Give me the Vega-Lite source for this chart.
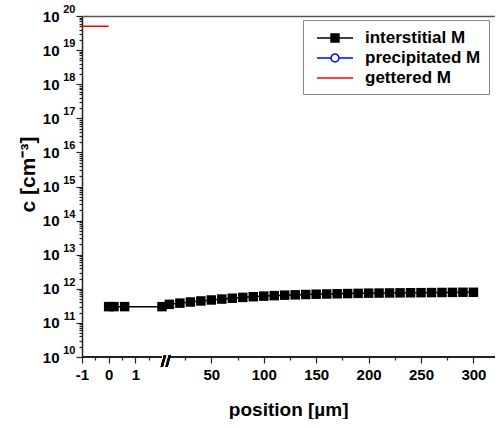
{
  "$schema": "https://vega.github.io/schema/vega-lite/v6.json",
  "width": 413,
  "height": 341,
  "padding": {"left": 17, "top": 3, "right": 0, "bottom": 0},
  "config": {
    "view": {"stroke": null},
    "font": "Liberation Sans",
    "axis": {"labelFont": "Liberation Sans", "labelFontWeight": "bold", "labelColor": "#000", "titleFont": "Liberation Sans", "titleFontWeight": "bold", "titleColor": "#000", "grid": false, "labelOverlap": false, "labelFlush": false, "tickColor": "#222", "tickWidth": 1.2}
  },
  "data": {
    "values": [
      {"series": "interstitial M", "segment": "surface", "position": 0, "c": 3.0e11},
      {"series": "interstitial M", "segment": "surface", "position": 0.2, "c": 3.0e11},
      {"series": "interstitial M", "segment": "surface", "position": 0.6, "c": 3.0e11},
      {"series": "interstitial M", "segment": "surface", "position": 2, "c": 3.0e11},
      {"series": "interstitial M", "segment": "bulk", "position": 10, "c": 3.5e11},
      {"series": "interstitial M", "segment": "bulk", "position": 20, "c": 3.8e11},
      {"series": "interstitial M", "segment": "bulk", "position": 30, "c": 4.1e11},
      {"series": "interstitial M", "segment": "bulk", "position": 40, "c": 4.4e11},
      {"series": "interstitial M", "segment": "bulk", "position": 50, "c": 4.7e11},
      {"series": "interstitial M", "segment": "bulk", "position": 60, "c": 5.0e11},
      {"series": "interstitial M", "segment": "bulk", "position": 70, "c": 5.3e11},
      {"series": "interstitial M", "segment": "bulk", "position": 80, "c": 5.6e11},
      {"series": "interstitial M", "segment": "bulk", "position": 90, "c": 5.85e11},
      {"series": "interstitial M", "segment": "bulk", "position": 100, "c": 6.1e11},
      {"series": "interstitial M", "segment": "bulk", "position": 110, "c": 6.3e11},
      {"series": "interstitial M", "segment": "bulk", "position": 120, "c": 6.5e11},
      {"series": "interstitial M", "segment": "bulk", "position": 130, "c": 6.65e11},
      {"series": "interstitial M", "segment": "bulk", "position": 140, "c": 6.8e11},
      {"series": "interstitial M", "segment": "bulk", "position": 150, "c": 6.95e11},
      {"series": "interstitial M", "segment": "bulk", "position": 160, "c": 7.05e11},
      {"series": "interstitial M", "segment": "bulk", "position": 170, "c": 7.15e11},
      {"series": "interstitial M", "segment": "bulk", "position": 180, "c": 7.25e11},
      {"series": "interstitial M", "segment": "bulk", "position": 190, "c": 7.35e11},
      {"series": "interstitial M", "segment": "bulk", "position": 200, "c": 7.45e11},
      {"series": "interstitial M", "segment": "bulk", "position": 210, "c": 7.5e11},
      {"series": "interstitial M", "segment": "bulk", "position": 220, "c": 7.55e11},
      {"series": "interstitial M", "segment": "bulk", "position": 230, "c": 7.6e11},
      {"series": "interstitial M", "segment": "bulk", "position": 240, "c": 7.65e11},
      {"series": "interstitial M", "segment": "bulk", "position": 250, "c": 7.7e11},
      {"series": "interstitial M", "segment": "bulk", "position": 260, "c": 7.75e11},
      {"series": "interstitial M", "segment": "bulk", "position": 270, "c": 7.8e11},
      {"series": "interstitial M", "segment": "bulk", "position": 280, "c": 7.85e11},
      {"series": "interstitial M", "segment": "bulk", "position": 290, "c": 7.9e11},
      {"series": "interstitial M", "segment": "bulk", "position": 300, "c": 7.9e11},
      {"series": "gettered M", "segment": "gettered", "position": -1, "c": 5e19},
      {"series": "gettered M", "segment": "gettered", "position": 0, "c": 5e19}
    ]
  },
  "resolve": {"axis": {"x": "independent", "y": "independent"}},
  "layer": [
    {
      "transform": [{"filter": "datum.series == 'interstitial M'"}],
      "mark": {"type": "line", "color": "#000", "strokeWidth": 1.5},
      "encoding": {
        "x": {"field": "position", "type": "quantitative",
          "scale": {"domain": [-1, 2, 10, 320], "range": [0, 80, 87.4, 412.4], "nice": false, "zero": false},
          "axis": {"orient": "bottom", "values": [-1, 0, 1, 50, 100, 150, 200, 250, 300], "labelExpr": "datum.value < 0 ? '-' + (-datum.value) : '' + datum.value", "tickSize": 6, "domain": false, "labelPadding": 4, "labelFontSize": 15, "title": "position [µm]", "titleFontSize": 19, "titlePadding": 18}},
        "y": {"field": "c", "type": "quantitative",
          "scale": {"type": "log", "domain": [1e10, 1e20], "nice": false},
          "axis": {"orient": "left", "values": [1e10, 1e11, 1e12, 1e13, 1e14, 1e15, 1e16, 1e17, 1e18, 1e19, 1e20], "labelExpr": "'10'", "tickSize": 6, "domain": true, "domainColor": "#222", "domainWidth": 1.5, "labelPadding": 17, "labelFontSize": 15, "title": "c [cm⁻³]", "titleFontSize": 21, "titlePadding": 4, "titleY": 158}},
        "detail": {"field": "segment"}
      }
    },
    {
      "transform": [{"filter": "datum.series == 'interstitial M'"}],
      "mark": {"type": "point", "shape": "square", "filled": true, "color": "#000", "size": 90, "opacity": 1},
      "encoding": {
        "x": {"field": "position", "type": "quantitative",
          "scale": {"domain": [-1, 2, 10, 320], "range": [0, 80, 87.4, 412.4], "nice": false, "zero": false},
          "axis": {"orient": "bottom", "values": [-0.5, 0.5, 1.5, 25, 75, 125, 175, 225, 275], "tickSize": 3, "labels": false, "domain": false, "title": null}},
        "y": {"field": "c", "type": "quantitative",
          "scale": {"type": "log", "domain": [1e10, 1e20], "nice": false},
          "axis": {"orient": "left", "values": [1e10, 1e11, 1e12, 1e13, 1e14, 1e15, 1e16, 1e17, 1e18, 1e19, 1e20], "labelExpr": "'' + round(log(datum.value) / LN10)", "ticks": false, "tickSize": 0, "domain": false, "labelPadding": 7, "labelFontSize": 11, "labelOffset": -6.5, "title": null}}
      }
    },
    {
      "transform": [{"filter": "datum.series == 'gettered M'"}],
      "mark": {"type": "line", "color": "#ff0000", "strokeWidth": 1.5},
      "encoding": {
        "x": {"field": "position", "type": "quantitative",
          "scale": {"domain": [-1, 2, 10, 320], "range": [0, 80, 87.4, 412.4], "nice": false, "zero": false},
          "axis": {"orient": "top", "domain": true, "domainColor": "#555", "domainWidth": 1.5, "ticks": false, "labels": false, "title": null}},
        "y": {"field": "c", "type": "quantitative",
          "scale": {"type": "log", "domain": [1e10, 1e20], "nice": false},
          "axis": {"orient": "left", "values": [2e10,3e10,4e10,5e10,6e10,7e10,8e10,9e10,2e11,3e11,4e11,5e11,6e11,7e11,8e11,9e11,2e12,3e12,4e12,5e12,6e12,7e12,8e12,9e12,2e13,3e13,4e13,5e13,6e13,7e13,8e13,9e13,2e14,3e14,4e14,5e14,6e14,7e14,8e14,9e14,2e15,3e15,4e15,5e15,6e15,7e15,8e15,9e15,2e16,3e16,4e16,5e16,6e16,7e16,8e16,9e16,2e17,3e17,4e17,5e17,6e17,7e17,8e17,9e17,2e18,3e18,4e18,5e18,6e18,7e18,8e18,9e18,2e19,3e19,4e19,5e19,6e19,7e19,8e19,9e19], "tickSize": 3, "labels": false, "domain": false, "title": null}}
      }
    },
    {
      "mark": {"type": "point", "opacity": 0},
      "encoding": {
        "x": {"field": "position", "type": "quantitative", "scale": {"domain": [-1, 2, 10, 320], "range": [0, 80, 87.4, 412.4], "nice": false, "zero": false}, "axis": null},
        "y": {"field": "c", "type": "quantitative", "scale": {"type": "log", "domain": [1e10, 1e20], "nice": false}, "axis": null},
        "shape": {"field": "series", "type": "nominal",
          "scale": {"domain": ["interstitial M", "precipitated M", "gettered M"], "range": ["M-2,0H2M-0.44,-0.44H0.44V0.44H-0.44Z", "M-2,0H-0.44M0.44,0H2M-0.44,0A0.44,0.44,0,1,0,0.44,0A0.44,0.44,0,1,0,-0.44,0Z", "M-2,0H2"]},
          "legend": {"title": null, "orient": "none", "legendX": 221, "legendY": 4, "symbolSize": 324, "symbolStrokeWidth": 1.5, "symbolOpacity": 1, "labelFontSize": 17, "labelFont": "Liberation Sans", "labelFontWeight": "bold", "labelColor": "#000", "padding": 8, "strokeColor": "#888", "fillColor": "#fff", "symbolOffset": 14, "labelOffset": 20, "rowPadding": 2}},
        "stroke": {"field": "series", "type": "nominal",
          "scale": {"domain": ["interstitial M", "precipitated M", "gettered M"], "range": ["#000000", "#0000ff", "#ff0000"]},
          "legend": {"title": null, "orient": "none", "legendX": 221, "legendY": 4, "symbolSize": 324, "symbolStrokeWidth": 1.5, "symbolOpacity": 1, "labelFontSize": 17, "labelFont": "Liberation Sans", "labelFontWeight": "bold", "labelColor": "#000", "padding": 8, "strokeColor": "#888", "fillColor": "#fff", "symbolOffset": 14, "labelOffset": 20, "rowPadding": 2}},
        "fill": {"field": "series", "type": "nominal",
          "scale": {"domain": ["interstitial M", "precipitated M", "gettered M"], "range": ["#000000", "#ffffff", "transparent"]},
          "legend": {"title": null, "orient": "none", "legendX": 221, "legendY": 4, "symbolSize": 324, "symbolStrokeWidth": 1.5, "symbolOpacity": 1, "labelFontSize": 17, "labelFont": "Liberation Sans", "labelFontWeight": "bold", "labelColor": "#000", "padding": 8, "strokeColor": "#888", "fillColor": "#fff", "symbolOffset": 14, "labelOffset": 20, "rowPadding": 2}}
      }
    },
    {
      "mark": {"type": "rule", "color": "#222", "strokeWidth": 1.5},
      "encoding": {
        "x": {"datum": -1, "type": "quantitative", "scale": {"domain": [-1, 2, 10, 320], "range": [0, 80, 87.4, 412.4], "nice": false, "zero": false}, "axis": null},
        "x2": {"datum": 2},
        "y": {"datum": 1e10, "type": "quantitative", "scale": {"type": "log", "domain": [1e10, 1e20], "nice": false}, "axis": null}
      }
    },
    {
      "mark": {"type": "rule", "color": "#222", "strokeWidth": 1.5},
      "encoding": {
        "x": {"datum": 10, "type": "quantitative", "scale": {"domain": [-1, 2, 10, 320], "range": [0, 80, 87.4, 412.4], "nice": false, "zero": false}, "axis": null},
        "x2": {"datum": 320},
        "y": {"datum": 1e10, "type": "quantitative", "scale": {"type": "log", "domain": [1e10, 1e20], "nice": false}, "axis": null}
      }
    },
    {
      "mark": {"type": "text", "text": "//", "fontSize": 17, "font": "Liberation Sans", "color": "#000", "dy": 5},
      "encoding": {
        "x": {"datum": 6, "type": "quantitative", "scale": {"domain": [-1, 2, 10, 320], "range": [0, 80, 87.4, 412.4], "nice": false, "zero": false}, "axis": null},
        "y": {"datum": 1e10, "type": "quantitative", "scale": {"type": "log", "domain": [1e10, 1e20], "nice": false}, "axis": null}
      }
    }
  ]
}
